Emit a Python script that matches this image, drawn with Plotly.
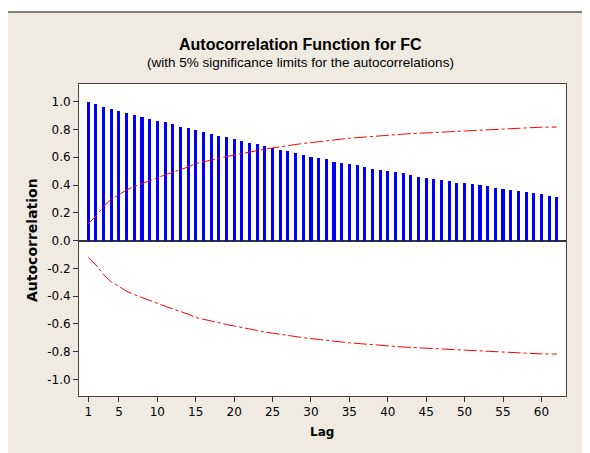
import plotly.graph_objects as go

lags = list(range(1, 63))

acf_values = [
    0.995, 0.981, 0.964, 0.945, 0.935, 0.921, 0.904, 0.887, 0.878, 0.863,
    0.853, 0.837, 0.820, 0.810, 0.794, 0.779, 0.770, 0.753, 0.743, 0.729,
    0.719, 0.704, 0.695, 0.678, 0.666, 0.652, 0.642, 0.628, 0.618, 0.602,
    0.592, 0.585, 0.568, 0.561, 0.551, 0.542, 0.527, 0.518, 0.508, 0.501,
    0.494, 0.484, 0.472, 0.460, 0.449, 0.441, 0.434, 0.426, 0.417, 0.417,
    0.407, 0.398, 0.391, 0.381, 0.374, 0.367, 0.360, 0.350, 0.340, 0.333,
    0.324, 0.317,
]

upper_limit = [
    0.122, 0.175, 0.245, 0.298, 0.330, 0.365, 0.390, 0.412, 0.433, 0.453,
    0.473, 0.492, 0.511, 0.530, 0.555, 0.566, 0.578, 0.592, 0.605, 0.617,
    0.629, 0.638, 0.648, 0.659, 0.668, 0.677, 0.686, 0.694, 0.700, 0.706,
    0.711, 0.717, 0.723, 0.731, 0.737, 0.742, 0.747, 0.752, 0.756, 0.760,
    0.764, 0.767, 0.770, 0.773, 0.776, 0.779, 0.782, 0.785, 0.787, 0.790,
    0.793, 0.796, 0.799, 0.803, 0.807, 0.810, 0.812, 0.815, 0.816, 0.817,
    0.817, 0.818,
]

lower_limit = [
    -0.122, -0.175, -0.245, -0.298, -0.330, -0.365, -0.390, -0.412, -0.433, -0.453,
    -0.473, -0.492, -0.511, -0.530, -0.555, -0.566, -0.578, -0.592, -0.605, -0.617,
    -0.629, -0.638, -0.648, -0.659, -0.668, -0.677, -0.686, -0.694, -0.700, -0.706,
    -0.711, -0.717, -0.723, -0.731, -0.737, -0.742, -0.747, -0.752, -0.756, -0.760,
    -0.764, -0.767, -0.770, -0.773, -0.776, -0.779, -0.782, -0.785, -0.787, -0.790,
    -0.793, -0.796, -0.799, -0.803, -0.807, -0.810, -0.812, -0.815, -0.816, -0.817,
    -0.817, -0.818,
]

x_tickvals = [1, 5, 10, 15, 20, 25, 30, 35, 40, 45, 50, 55, 60]
y_tickvals = [-1.0, -0.8, -0.6, -0.4, -0.2, 0.0, 0.2, 0.4, 0.6, 0.8, 1.0]
y_ticktext = ["-1.0", "-0.8", "-0.6", "-0.4", "-0.2", "0.0", "0.2", "0.4", "0.6", "0.8", "1.0"]

title_text = "Autocorrelation Function for FC"
subtitle_text = "(with 5% significance limits for the autocorrelations)"

FONT = "DejaVu Sans"
TFONT = "Liberation Sans, Arial, sans-serif"

fig = go.Figure()
fig.add_trace(go.Bar(x=lags, y=acf_values, width=0.4,
                     marker=dict(color="#0000FF", line=dict(width=0)),
                     showlegend=False))
fig.add_trace(go.Scatter(x=lags, y=upper_limit, mode="lines",
                         line=dict(color="#FF0000", width=1, dash="13px,3px,3px,3px"),
                         showlegend=False))
fig.add_trace(go.Scatter(x=lags, y=lower_limit, mode="lines",
                         line=dict(color="#FF0000", width=1, dash="13px,3px,3px,3px"),
                         showlegend=False))

OFF = 8  # page body margin
W, H = 582, 445
# plot area in window pixels
PL, PR, PT, PB = 79, 566, 84, 396
L = PL - OFF
R = W - (PR - OFF)
T = PT - OFF
B = H - (PB - OFF)
pw = W - L - R
ph = H - T - B

def px_x(p):
    return (p - OFF - L) / pw

def px_y(p):
    return ((PB - OFF) - (p - OFF)) / ph

fig.update_layout(
    width=W, height=H,
    margin=dict(l=L, r=R, t=T, b=B, pad=0),
    paper_bgcolor="#EFEBE2",
    plot_bgcolor="#FFFFFF",
    bargap=0,
    font=dict(family=FONT, size=12, color="#000000"),
    xaxis=dict(range=[-0.2, 63.2], tickvals=x_tickvals, ticks="outside", ticklen=5,
               tickcolor="#333333", showgrid=False, zeroline=False,
               showline=True, mirror=True, linecolor="#444444", linewidth=1,
               tickfont=dict(family=FONT, size=12)),
    yaxis=dict(range=[-1.12, 1.128], tickvals=y_tickvals, ticktext=y_ticktext,
               ticks="outside", ticklen=5, tickcolor="#333333", showgrid=False,
               zeroline=True, zerolinecolor="#333333", zerolinewidth=1.5,
               showline=True, mirror=True, linecolor="#444444", linewidth=1,
               tickfont=dict(family=FONT, size=12)),
    shapes=[
        dict(type="rect", xref="paper", yref="paper", x0=px_x(-20), x1=px_x(620),
             y0=px_y(12), y1=px_y(-20), fillcolor="#FFFFFF", line=dict(width=0), layer="above"),
        dict(type="rect", xref="paper", yref="paper", x0=px_x(-20), x1=px_x(5),
             y0=px_y(480), y1=px_y(-20), fillcolor="#FFFFFF", line=dict(width=0), layer="above"),
        dict(type="rect", xref="paper", yref="paper", x0=px_x(6), x1=px_x(640),
             y0=px_y(490), y1=px_y(12), line=dict(color="#555555", width=1.5), layer="above"),
    ],
    annotations=[
        dict(text="<b>" + title_text + "</b>", xref="paper", yref="paper",
             x=px_x(300), y=px_y(44), xanchor="center", yanchor="middle", showarrow=False,
             font=dict(family=TFONT, size=16, color="#000000")),
        dict(text=subtitle_text, xref="paper", yref="paper",
             x=px_x(300), y=px_y(62), xanchor="center", yanchor="middle", showarrow=False,
             font=dict(family=TFONT, size=13.5, color="#000000")),
        dict(text="<b>Autocorrelation</b>", xref="paper", yref="paper",
             x=px_x(32), y=px_y(240), xanchor="center", yanchor="middle", showarrow=False,
             textangle=-90, font=dict(family=FONT, size=14, color="#000000")),
        dict(text="<b>Lag</b>", xref="paper", yref="paper",
             x=px_x(322), y=px_y(432), xanchor="center", yanchor="middle", showarrow=False,
             font=dict(family=FONT, size=12, color="#000000")),
    ],
)

fig.write_html("out.html")
